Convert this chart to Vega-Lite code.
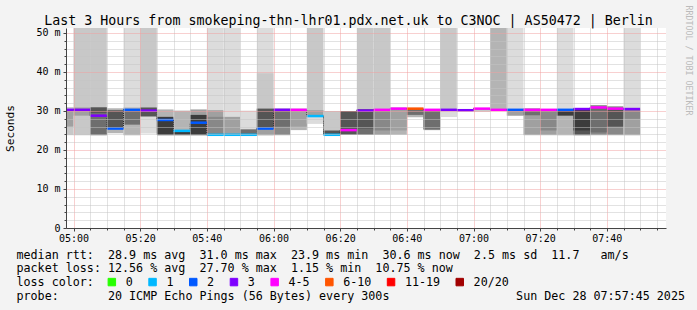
{
  "$schema": "https://vega.github.io/schema/vega-lite/v6.json",
  "width": 600,
  "height": 200,
  "autosize": {"type": "none"},
  "padding": {"left": 66, "top": 28, "right": 31, "bottom": 82},
  "background": "#f3f3f3",
  "view": {"fill": "white", "stroke": null},
  "config": {"font": "DejaVu Sans Mono"},
  "datasets": {
    "smoke": [
      {"t0":295,"t1":300,"lo":23.8,"hi":31.0,"shade":"b"},{"t0":295,"t1":300,"lo":26.0,"hi":30.5,"shade":"d"},
      {"t0":300,"t1":305,"lo":23.8,"hi":60,"shade":"b"},{"t0":300,"t1":305,"lo":28.8,"hi":30.9,"shade":"d"},
      {"t0":305,"t1":310,"lo":23.8,"hi":60,"shade":"b"},{"t0":305,"t1":310,"lo":23.8,"hi":30.9,"shade":"f"},{"t0":305,"t1":310,"lo":29.5,"hi":30.9,"shade":"g"},
      {"t0":310,"t1":315,"lo":24.3,"hi":30.7,"shade":"c"},{"t0":310,"t1":315,"lo":25.5,"hi":30.2,"shade":"g"},
      {"t0":315,"t1":320,"lo":23.8,"hi":60,"shade":"a"},{"t0":315,"t1":320,"lo":23.8,"hi":30.9,"shade":"c"},{"t0":315,"t1":320,"lo":26.5,"hi":30.5,"shade":"f"},
      {"t0":320,"t1":325,"lo":24.3,"hi":60,"shade":"b"},{"t0":320,"t1":325,"lo":24.3,"hi":28.6,"shade":"a"},{"t0":320,"t1":325,"lo":28.6,"hi":30.9,"shade":"g"},
      {"t0":325,"t1":330,"lo":23.8,"hi":30.4,"shade":"c"},{"t0":325,"t1":330,"lo":23.8,"hi":28.5,"shade":"h"},
      {"t0":330,"t1":335,"lo":23.8,"hi":30.1,"shade":"c"},{"t0":330,"t1":335,"lo":23.8,"hi":24.8,"shade":"h"},
      {"t0":335,"t1":340,"lo":23.8,"hi":30.4,"shade":"d"},{"t0":335,"t1":340,"lo":23.8,"hi":29.0,"shade":"h"},
      {"t0":340,"t1":345,"lo":23.9,"hi":60,"shade":"a"},{"t0":340,"t1":345,"lo":23.9,"hi":30.2,"shade":"d"},{"t0":340,"t1":345,"lo":23.9,"hi":28.5,"shade":"e"},
      {"t0":345,"t1":350,"lo":23.9,"hi":60,"shade":"a"},{"t0":345,"t1":350,"lo":23.9,"hi":28.5,"shade":"d"},
      {"t0":350,"t1":355,"lo":23.9,"hi":30.1,"shade":"a"},{"t0":350,"t1":355,"lo":23.9,"hi":25.3,"shade":"f"},
      {"t0":355,"t1":360,"lo":23.8,"hi":60,"shade":"a"},{"t0":355,"t1":360,"lo":23.8,"hi":39.7,"shade":"b"},{"t0":355,"t1":360,"lo":23.8,"hi":30.6,"shade":"d"},{"t0":355,"t1":360,"lo":25.5,"hi":30.6,"shade":"g"},
      {"t0":360,"t1":365,"lo":23.8,"hi":30.6,"shade":"e"},{"t0":360,"t1":365,"lo":26.0,"hi":30.0,"shade":"f"},
      {"t0":365,"t1":370,"lo":25.1,"hi":30.6,"shade":"c"},{"t0":365,"t1":370,"lo":26.0,"hi":30.0,"shade":"d"},
      {"t0":370,"t1":375,"lo":26.8,"hi":60,"shade":"b"},{"t0":370,"t1":375,"lo":26.8,"hi":28.5,"shade":"a"},{"t0":370,"t1":375,"lo":28.5,"hi":30.2,"shade":"d"},
      {"t0":375,"t1":380,"lo":23.9,"hi":30.0,"shade":"b"},{"t0":375,"t1":380,"lo":23.9,"hi":25.0,"shade":"g"},
      {"t0":380,"t1":385,"lo":23.9,"hi":30.0,"shade":"g"},
      {"t0":385,"t1":390,"lo":23.9,"hi":60,"shade":"b"},{"t0":385,"t1":390,"lo":23.9,"hi":30.5,"shade":"f"},{"t0":385,"t1":390,"lo":25.5,"hi":30.3,"shade":"g"},
      {"t0":390,"t1":395,"lo":23.9,"hi":60,"shade":"b"},{"t0":390,"t1":395,"lo":23.9,"hi":30.5,"shade":"d"},{"t0":390,"t1":395,"lo":25.0,"hi":30.0,"shade":"e"},
      {"t0":395,"t1":400,"lo":23.9,"hi":30.9,"shade":"c"},{"t0":395,"t1":400,"lo":25.0,"hi":30.4,"shade":"d"},
      {"t0":400,"t1":405,"lo":28.4,"hi":30.8,"shade":"c"},{"t0":400,"t1":405,"lo":29.0,"hi":30.6,"shade":"f"},
      {"t0":405,"t1":410,"lo":25.1,"hi":30.5,"shade":"e"},{"t0":405,"t1":410,"lo":25.4,"hi":30.3,"shade":"f"},
      {"t0":410,"t1":415,"lo":28.5,"hi":60,"shade":"b"},{"t0":410,"t1":415,"lo":28.5,"hi":30.2,"shade":"a"},
      {"t0":415,"t1":420,"lo":29.9,"hi":30.5,"shade":"a"},
      {"t0":420,"t1":425,"lo":29.8,"hi":30.8,"shade":"b"},
      {"t0":425,"t1":430,"lo":30.0,"hi":60,"shade":"c"},
      {"t0":430,"t1":435,"lo":28.8,"hi":60,"shade":"a"},{"t0":430,"t1":435,"lo":28.8,"hi":30.2,"shade":"d"},
      {"t0":435,"t1":440,"lo":23.8,"hi":30.7,"shade":"d"},{"t0":435,"t1":440,"lo":28.9,"hi":30.2,"shade":"f"},
      {"t0":440,"t1":445,"lo":23.8,"hi":30.5,"shade":"d"},{"t0":440,"t1":445,"lo":25.0,"hi":30.3,"shade":"e"},
      {"t0":445,"t1":450,"lo":23.8,"hi":60,"shade":"a"},{"t0":445,"t1":450,"lo":23.8,"hi":30.3,"shade":"c"},{"t0":445,"t1":450,"lo":28.8,"hi":30.3,"shade":"h"},
      {"t0":450,"t1":455,"lo":23.8,"hi":30.7,"shade":"g"},{"t0":450,"t1":455,"lo":25.0,"hi":30.3,"shade":"h"},
      {"t0":455,"t1":460,"lo":23.8,"hi":31.5,"shade":"e"},{"t0":455,"t1":460,"lo":24.5,"hi":30.8,"shade":"f"},
      {"t0":460,"t1":465,"lo":23.8,"hi":31.2,"shade":"e"},{"t0":460,"t1":465,"lo":26.0,"hi":30.5,"shade":"g"},
      {"t0":465,"t1":470,"lo":23.8,"hi":60,"shade":"a"},{"t0":465,"t1":470,"lo":23.8,"hi":30.5,"shade":"d"},{"t0":465,"t1":470,"lo":28.0,"hi":30.3,"shade":"e"}
    ],
    "med": [
      {"t0":295,"t1":300,"med":30.3,"loss":"3"},
      {"t0":300,"t1":305,"med":30.3,"loss":"3"},
      {"t0":305,"t1":310,"med":28.8,"loss":"3"},
      {"t0":310,"t1":315,"med":25.5,"loss":"2"},
      {"t0":315,"t1":320,"med":30.3,"loss":"2"},
      {"t0":320,"t1":325,"med":30.1,"loss":"3"},
      {"t0":325,"t1":330,"med":27.7,"loss":"2"},
      {"t0":330,"t1":335,"med":24.9,"loss":"1"},
      {"t0":335,"t1":340,"med":27.0,"loss":"2"},
      {"t0":340,"t1":345,"med":23.9,"loss":"1"},
      {"t0":345,"t1":350,"med":23.9,"loss":"1"},
      {"t0":350,"t1":355,"med":23.9,"loss":"1"},
      {"t0":355,"t1":360,"med":25.5,"loss":"2"},
      {"t0":360,"t1":365,"med":30.3,"loss":"3"},
      {"t0":365,"t1":370,"med":30.3,"loss":"4-5"},
      {"t0":370,"t1":375,"med":28.7,"loss":"1"},
      {"t0":375,"t1":380,"med":23.9,"loss":"1"},
      {"t0":380,"t1":385,"med":25.1,"loss":"4-5"},
      {"t0":385,"t1":390,"med":30.1,"loss":"3"},
      {"t0":390,"t1":395,"med":30.3,"loss":"4-5"},
      {"t0":395,"t1":400,"med":30.6,"loss":"4-5"},
      {"t0":400,"t1":405,"med":30.6,"loss":"6-10"},
      {"t0":405,"t1":410,"med":30.3,"loss":"4-5"},
      {"t0":410,"t1":415,"med":30.3,"loss":"3"},
      {"t0":415,"t1":420,"med":30.2,"loss":"3"},
      {"t0":420,"t1":425,"med":30.6,"loss":"4-5"},
      {"t0":425,"t1":430,"med":30.3,"loss":"4-5"},
      {"t0":430,"t1":435,"med":30.3,"loss":"2"},
      {"t0":435,"t1":440,"med":30.3,"loss":"4-5"},
      {"t0":440,"t1":445,"med":30.3,"loss":"4-5"},
      {"t0":445,"t1":450,"med":30.3,"loss":"2"},
      {"t0":450,"t1":455,"med":30.5,"loss":"3"},
      {"t0":455,"t1":460,"med":30.9,"loss":"4-5"},
      {"t0":460,"t1":465,"med":30.6,"loss":"4-5"},
      {"t0":465,"t1":470,"med":30.5,"loss":"3"}
    ]
  },
  "layer": [
    {
      "data": {"name": "smoke"},
      "mark": {"type": "rect", "clip": true},
      "encoding": {
        "x": {
          "field": "t0", "type": "quantitative",
          "scale": {"domain": [297.75, 477.75], "nice": false, "zero": false},
          "axis": {
            "orient": "bottom",
            "values": [300,305,310,315,320,325,330,335,340,345,350,355,360,365,370,375,380,385,390,395,400,405,410,415,420,425,430,435,440,445,450,455,460,465,470,475],
            "labelExpr": "datum.value % 20 == 0 ? ((floor(datum.value/60) < 10 ? '0' : '') + floor(datum.value/60) + ':' + (datum.value % 60 < 10 ? '0' : '') + (datum.value % 60)) : ''",
            "labelFont": "DejaVu Sans Mono", "labelFontSize": 10, "labelColor": "#000",
            "labelPadding": 2, "labelOverlap": false, "labelFlush": false,
            "tickSize": {"condition": {"test": "datum.value % 20 == 0", "value": 3}, "value": 2},
            "tickColor": "#444", "domainColor": "#444",
            "grid": true,
            "gridColor": {"condition": {"test": "datum.value % 20 == 0", "value": "#f0a0a0"}, "value": "#c4c4c4"},
            "gridDash": [1, 1],
            "zindex": 1,
            "title": [
              "median\u00a0rtt:\u00a0\u00a028.9\u00a0ms\u00a0avg\u00a0\u00a031.0\u00a0ms\u00a0max\u00a0\u00a023.9\u00a0ms\u00a0min\u00a0\u00a030.6\u00a0ms\u00a0now\u00a0\u00a02.5\u00a0ms\u00a0sd\u00a0\u00a011.7\u00a0\u00a0\u00a0am/s",
              "packet\u00a0loss:\u00a012.56\u00a0%\u00a0avg\u00a0\u00a027.70\u00a0%\u00a0max\u00a0\u00a01.15\u00a0%\u00a0min\u00a0\u00a010.75\u00a0%\u00a0now",
              "loss\u00a0color:",
              "probe:\u00a0\u00a0\u00a0\u00a0\u00a0\u00a0\u00a020\u00a0ICMP\u00a0Echo\u00a0Pings\u00a0(56\u00a0Bytes)\u00a0every\u00a0300s\u00a0\u00a0\u00a0\u00a0\u00a0\u00a0\u00a0\u00a0\u00a0\u00a0\u00a0\u00a0\u00a0\u00a0\u00a0\u00a0\u00a0\u00a0Sun\u00a0Dec\u00a028\u00a007:57:45\u00a02025"
            ],
            "titleFont": "DejaVu Sans Mono", "titleFontSize": 11.7, "titleFontWeight": "normal", "titleColor": "#000",
            "titleX": -50, "titleY": 30, "titleAlign": "left", "titleAnchor": "start", "titleBaseline": "alphabetic", "titleLineHeight": 13.7
          }
        },
        "x2": {"field": "t1"},
        "y": {
          "field": "lo", "type": "quantitative",
          "scale": {"domain": [0, 51.28], "nice": false, "zero": false},
          "axis": {
            "orient": "left",
            "values": [0,2,4,6,8,10,12,14,16,18,20,22,24,26,28,30,32,34,36,38,40,42,44,46,48,50],
            "labelExpr": "datum.value % 10 == 0 ? (datum.value == 0 ? '0' : datum.value + '\u00a0m') : ''",
            "labelFont": "DejaVu Sans Mono", "labelFontSize": 10, "labelColor": "#000",
            "labelPadding": 3, "labelOverlap": false, "labelFlush": false,
            "tickSize": {"condition": {"test": "datum.value % 10 == 0", "value": 3}, "value": 2},
            "tickColor": "#444", "domainColor": "#444",
            "grid": true,
            "gridColor": {"condition": {"test": "datum.value % 10 == 0", "value": "#f0a0a0"}, "value": "#c4c4c4"},
            "gridDash": [1, 1],
            "zindex": 1,
            "title": "Seconds",
            "titleFont": "DejaVu Sans Mono", "titleFontSize": 11.2, "titleFontWeight": "normal", "titleColor": "#000",
            "titleAngle": 270, "titleX": -56, "titleY": 100, "titleAlign": "center", "titleBaseline": "middle"
          }
        },
        "y2": {"field": "hi"},
        "fill": {
          "field": "shade", "type": "nominal",
          "scale": {"domain": ["a","b","c","d","e","f","g","h"], "range": ["#dcdcdc","#c8c8c8","#b4b4b4","#a0a0a0","#888888","#6e6e6e","#555555","#3c3c3c"]},
          "legend": null
        }
      }
    },
    {
      "data": {"name": "med"},
      "mark": {"type": "line", "interpolate": "step-after", "clip": true, "color": "#222", "strokeWidth": 1, "strokeDash": [1, 1]},
      "encoding": {
        "x": {
          "field": "t0", "type": "quantitative",
          "scale": {"domain": [297.75, 477.75], "nice": false, "zero": false},
          "axis": {
            "orient": "top", "labels": false, "ticks": false, "domain": false, "grid": false,
            "title": "Last 3 Hours from smokeping-thn-lhr01.pdx.net.uk to C3NOC | AS50472 | Berlin",
            "titleFont": "DejaVu Sans Mono", "titleFontSize": 13.3, "titleFontWeight": "normal", "titleColor": "#000",
            "titleX": 282, "titleY": -4, "titleAlign": "center", "titleBaseline": "alphabetic"
          }
        },
        "y": {
          "field": "med", "type": "quantitative",
          "scale": {"domain": [0, 51.28], "nice": false, "zero": false},
          "axis": {
            "orient": "right", "labels": false, "ticks": false, "domain": false, "grid": false,
            "title": "RRDTOOL / TOBI OETIKER",
            "titleFont": "DejaVu Sans Mono", "titleFontSize": 8.3, "titleFontWeight": "normal", "titleColor": "#bbbbbb",
            "titleAngle": 90, "titleX": 21.5, "titleY": -23, "titleAlign": "left", "titleBaseline": "middle"
          }
        }
      }
    },
    {
      "data": {"name": "med"},
      "mark": {"type": "rule", "clip": true, "strokeWidth": 2.5},
      "encoding": {
        "x": {"field": "t0", "type": "quantitative", "scale": {"domain": [297.75, 477.75], "nice": false, "zero": false}, "axis": null},
        "x2": {"field": "t1"},
        "y": {"field": "med", "type": "quantitative", "scale": {"domain": [0, 51.28], "nice": false, "zero": false}, "axis": null},
        "color": {
          "field": "loss", "type": "nominal",
          "scale": {"domain": ["0","1","2","3","4-5","6-10","11-19","20/20"], "range": ["#26ff00","#00b8ff","#0059ff","#7e00ff","#ff00ff","#ff5500","#ff0000","#a10000"]},
          "legend": {
            "orient": "none", "legendX": 40, "legendY": 248, "direction": "horizontal", "title": null, "padding": 0,
            "labelFont": "DejaVu Sans Mono", "labelFontSize": 11.7, "labelColor": "#000", "labelOffset": 8, "columnPadding": 13.7,
            "symbolType": "square", "symbolSize": 56, "symbolStrokeColor": "#000", "symbolStrokeWidth": 1,
            "encode": {
              "symbols": {
                "update": {
                  "fill": {"scale": "color", "field": "value"},
                  "stroke": {"value": "#000"},
                  "strokeWidth": {"value": 1},
                  "shape": {"value": "square"},
                  "size": {"value": 56},
                  "opacity": {"value": 1}
                }
              }
            }
          }
        }
      }
    }
  ],
  "resolve": {"axis": {"x": "independent", "y": "independent"}}
}
